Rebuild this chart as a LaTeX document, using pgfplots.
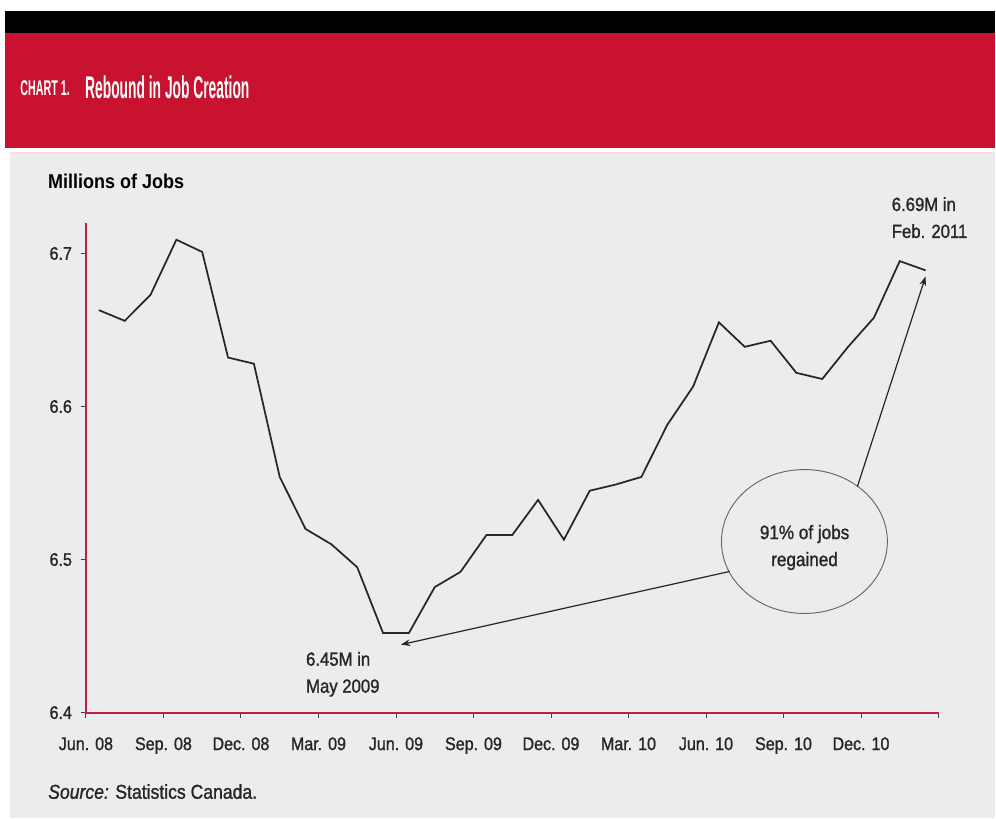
\documentclass[border=0pt]{standalone}
\usepackage{fontspec}
\setmainfont{Liberation Sans}[FakeStretch=0.9]
\newfontfamily\semib{Liberation Sans}[FakeStretch=0.88, FakeBold=1.2]
\usepackage{graphicx}
\usepackage{pgfplots}
\usepackage{pgfplotstable}
\pgfplotsset{compat=1.18}
\usetikzlibrary{arrows.meta}
\definecolor{banner}{RGB}{200,18,48}
\definecolor{panel}{RGB}{234,236,237}
\definecolor{axred}{RGB}{196,28,64}

\pgfplotstableread{
x y
0.5 6.663
1.5 6.656
2.5 6.673
3.5 6.709
4.5 6.701
5.5 6.632
6.5 6.628
7.5 6.554
8.5 6.520
9.5 6.510
10.5 6.495
11.5 6.452
12.5 6.452
13.5 6.482
14.5 6.492
15.5 6.516
16.5 6.516
17.5 6.539
18.5 6.513
19.5 6.545
20.5 6.549
21.5 6.554
22.5 6.588
23.5 6.613
24.5 6.655
25.5 6.639
26.5 6.643
27.5 6.622
28.5 6.618
29.5 6.639
30.5 6.658
31.5 6.695
32.5 6.689
}\jobs

\begin{document}
\begin{tikzpicture}
\begin{scope}[x=0.75pt,y=0.75pt]
\fill[white] (0,0) rectangle (996,819);
\fill[black] (5,808) rectangle (996,786);
\fill[banner] (5,786) rectangle (996,671);
\fill[panel] (10,667) rectangle (996,1);
\draw[red!15, line width=0.8pt] (10,666) -- (996,666);

\node[anchor=west, text=white, inner sep=0, font=\fontsize{16pt}{18pt}\selectfont\bfseries] at (20,731)
  {\scalebox{0.56}[1]{CHART 1.}};
\node[anchor=west, text=white, inner sep=0, font=\fontsize{23.5pt}{26pt}\selectfont\bfseries] at (85,732)
  {\scalebox{0.49}[1]{Rebound in Job Creation}};

\node[anchor=west, inner sep=0, font=\fontsize{15pt}{18pt}\selectfont\bfseries] at (48,638)
  {Millions of Jobs};

\node[anchor=north west, inner sep=0, align=left, text=black!85, font=\fontsize{14.25pt}{20.25pt}\selectfont\semib] at (306,167)
  {6.45M in\\May 2009};
\node[anchor=north west, inner sep=0, align=left, text=black!85, font=\fontsize{14.25pt}{20.25pt}\selectfont\semib] at (892,622)
  {6.69M in\\Feb. 2011};
\node[anchor=north, inner sep=0, align=center, text=black!85, font=\fontsize{14.6pt}{20.25pt}\selectfont\semib] at (805,294)
  {91\% of jobs\\regained};

\node[anchor=west, inner sep=0, text=black!85, font=\fontsize{15pt}{18pt}\selectfont\semib] at (48,27)
  {\textit{Source:} Statistics Canada.};
\end{scope}

\begin{axis}[
  at={(64.5pt,79.5pt)}, anchor=south west,
  scale only axis, width=639.75pt, height=367.5pt,
  xmin=0, xmax=33, ymin=6.4, ymax=6.72,
  axis lines*=left,
  axis line style={axred, line width=1.5pt},
  xtick={0,3,...,33},
  xticklabels={Jun. 08, Sep. 08, Dec. 08, Mar. 09, Jun. 09, Sep. 09, Dec. 09, Mar. 10, Jun. 10, Sep. 10, Dec. 10, {}},
  ytick={6.4,6.5,6.6,6.7},
  yticklabels={6.4,6.5,6.6,6.7},
  tick align=outside,
  major tick length=4pt,
  tick style={black!75, line width=0.7pt},
  ticklabel style={font=\fontsize{13.7pt}{16pt}\selectfont\semib, text=black!85},
  xticklabel style={yshift=-11pt},
  yticklabel style={xshift=-3pt},
  clip=false,
]
\addplot[black!85, line width=1.3pt] table[x=x, y=y] {\jobs};
\draw[black!60, line width=0.7pt] (axis cs:27.81,6.5118) ellipse [x radius=62.25pt, y radius=54pt];
\draw[black!85, line width=0.9pt, -{Stealth[length=7pt,width=5pt]}] (axis cs:24.91,6.4922) -- (axis cs:12.19,6.4444);
\draw[black!85, line width=0.9pt, -{Stealth[length=7pt,width=5pt]}] (axis cs:29.86,6.5477) -- (axis cs:32.50,6.685);
\end{axis}
\end{tikzpicture}
\end{document}
